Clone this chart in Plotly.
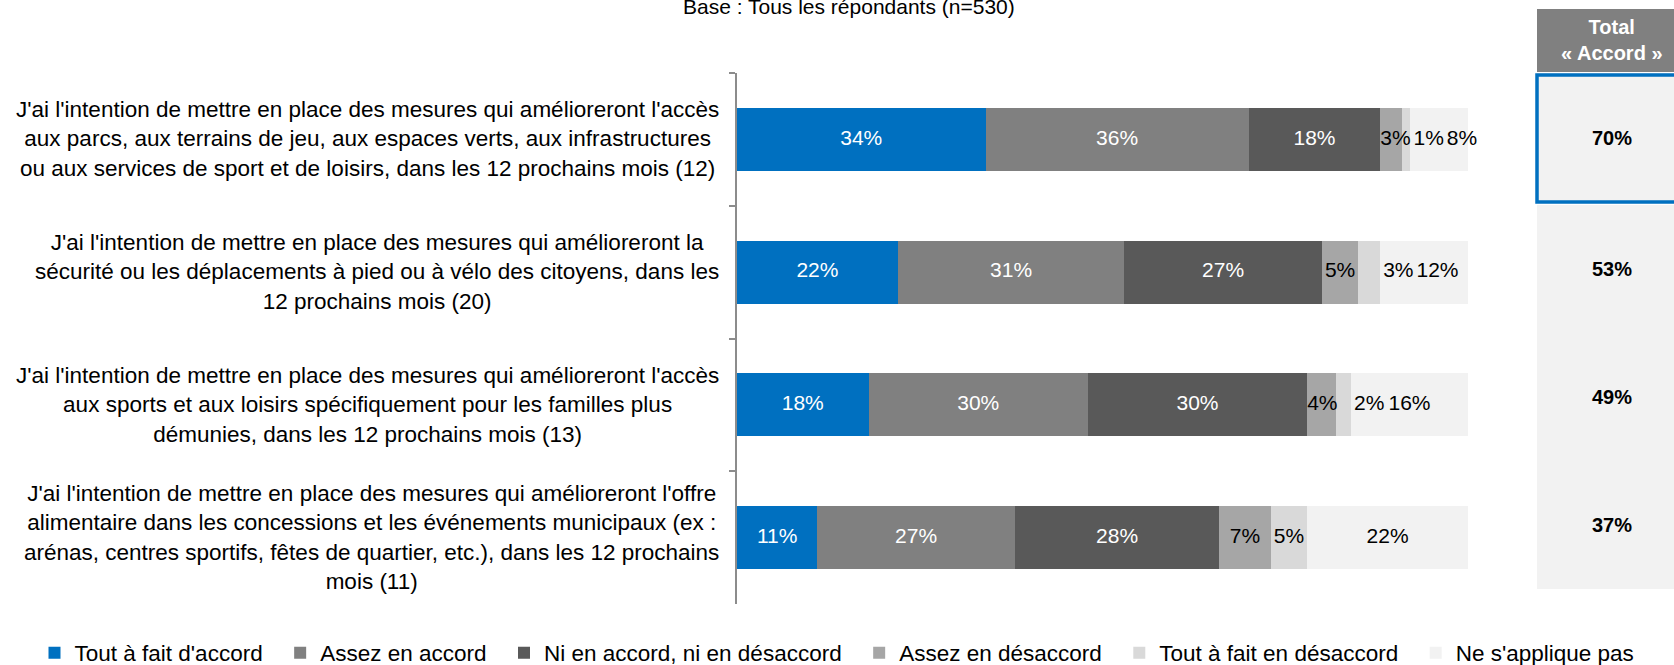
import plotly.graph_objects as go

# data
questions = [
    "J'ai l'intention de mettre en place des mesures qui amélioreront l'accès<br>aux parcs, aux terrains de jeu, aux espaces verts, aux infrastructures<br>ou aux services de sport et de loisirs, dans les 12 prochains mois (12)",
    "J'ai l'intention de mettre en place des mesures qui amélioreront la<br>sécurité ou les déplacements à pied ou à vélo des citoyens, dans les<br>12 prochains mois (20)",
    "J'ai l'intention de mettre en place des mesures qui amélioreront l'accès<br>aux sports et aux loisirs spécifiquement pour les familles plus<br>démunies, dans les 12 prochains mois (13)",
    "J'ai l'intention de mettre en place des mesures qui amélioreront l'offre<br>alimentaire dans les concessions et les événements municipaux (ex :<br>arénas, centres sportifs, fêtes de quartier, etc.), dans les 12 prochains<br>mois (11)",
]
tout_accord = [34, 22, 18, 11]
assez_accord = [36, 31, 30, 27]
ni_ni = [18, 27, 30, 28]
assez_desaccord = [3, 5, 4, 7]
tout_desaccord = [1, 3, 2, 5]
ne_s_applique = [8, 12, 16, 22]
total_accord = [70, 53, 49, 37]

series_names = ["Tout à fait d'accord", "Assez en accord", "Ni en accord, ni en désaccord",
                "Assez en désaccord", "Tout à fait en désaccord", "Ne s'applique pas"]
series_values = [tout_accord, assez_accord, ni_ni, assez_desaccord, tout_desaccord, ne_s_applique]
colors = ["#0070C0", "#808080", "#595959", "#A6A6A6", "#D9D9D9", "#F2F2F2"]
text_colors = ["white", "white", "white", "black", "black", "black"]
# where a label goes when it does not fit in its segment
overflow_rule = [None, None, None, "start", "after", None]

W, H = 1674, 665
T, B = 73, 61
PLOT_H = H - T - B
X0_PX, X1_PX = 737, 1468
LABEL_SIZE = 21


def px_x(px):
    return px / W


def px_y(py):
    return (H - B - py) / PLOT_H


def label_width(v):
    # approximate width of "NN%" in axis units
    return LABEL_SIZE * (0.556 * len(str(v)) + 0.889) / ((X1_PX - X0_PX) / 100)


# label centres, worked out row by row so small labels don't collide
label_x = [[0] * len(questions) for _ in series_values]
for r in range(len(questions)):
    cum = 0
    prev_end = -100
    for s, vals in enumerate(series_values):
        v = vals[r]
        w = label_width(v)
        left = cum + v / 2 - w / 2
        if w > v and overflow_rule[s] == "start":
            left = cum
        elif w > v and overflow_rule[s] == "after":
            left = cum + v + 0.4
        left = max(left, prev_end + 0.4)
        label_x[s][r] = left + w / 2
        prev_end = left + w
        cum += v

FONT = "Liberation Sans, Arial, sans-serif"

fig = go.Figure()
for i, (name, vals, col) in enumerate(zip(series_names, series_values, colors)):
    # a little trailing space so legend entries are spread like the original
    legend_name = name + ("\u00a0\u00a0" if i < len(series_names) - 1 else "")
    fig.add_trace(go.Bar(
        y=questions, x=vals, name=legend_name, orientation='h',
        marker=dict(color=col, line=dict(width=0)),
        width=0.475,
        hovertemplate=name + ': %{x}%<extra></extra>',
    ))

for vals, xs, tcol in zip(series_values, label_x, text_colors):
    fig.add_trace(go.Scatter(
        y=questions, x=xs, mode='text', text=[f"{v}%" for v in vals],
        textposition='middle center', textfont=dict(color=tcol, size=LABEL_SIZE, family=FONT),
        showlegend=False, hoverinfo='skip', cliponaxis=False,
    ))

# category labels (centered lines, block right aligned)
for q in questions:
    fig.add_annotation(x=px_x(721), xref='paper', xanchor='right', y=q, yref='y', yanchor='middle',
                       text=q, align='center', showarrow=False,
                       font=dict(size=22.5, color='black', family=FONT))

# title
fig.add_annotation(x=px_x(849), xref='paper', xanchor='center', y=px_y(6), yref='paper', yanchor='middle',
                   text="Base : Tous les répondants (n=530)", showarrow=False,
                   font=dict(size=21, color='black', family=FONT))

# Total « Accord » column
fig.add_shape(type='rect', xref='paper', yref='paper', x0=px_x(1537), x1=px_x(1700),
              y0=px_y(72), y1=px_y(9), fillcolor='#808080', line=dict(width=0), layer='below')
fig.add_annotation(x=px_x(1612), xref='paper', xanchor='center', y=px_y(40), yref='paper', yanchor='middle',
                   text="<b>Total<br>« Accord »</b>", showarrow=False,
                   font=dict(size=20, color='white', family=FONT))

cell_tops = [73, 205, 333, 461]
cell_h = 128
for i, (top, val) in enumerate(zip(cell_tops, total_accord)):
    bottom = top + (130 if i == 0 else cell_h)
    fig.add_shape(type='rect', xref='paper', yref='paper', x0=px_x(1537), x1=px_x(1700),
                  y0=px_y(bottom), y1=px_y(top), fillcolor='#F2F2F2', line=dict(width=0), layer='below')
    fig.add_annotation(x=px_x(1612), xref='paper', xanchor='center', y=px_y((top + bottom) / 2),
                       yref='paper', yanchor='middle', text=f"<b>{val}%</b>", showarrow=False,
                       font=dict(size=20, color='black', family=FONT))

# highlight border on first cell
fig.add_shape(type='rect', xref='paper', yref='paper', x0=px_x(1537), x1=px_x(1700),
              y0=px_y(202), y1=px_y(75), fillcolor='rgba(0,0,0,0)',
              line=dict(color='#0070C0', width=3.5))

fig.update_layout(
    width=W, height=H,
    barmode='stack',
    plot_bgcolor='white', paper_bgcolor='white',
    margin=dict(l=0, r=0, t=T, b=B, autoexpand=False),
    font=dict(family=FONT, size=22, color='black'),
    xaxis=dict(domain=[px_x(X0_PX), px_x(X1_PX)], range=[0, 100], visible=False, fixedrange=True),
    yaxis=dict(range=[3.5, -0.5], showticklabels=False, showgrid=False, showline=True,
               linecolor='#8C8C8C', linewidth=2, ticks='outside', tickson='boundaries',
               ticklen=6, tickcolor='#8C8C8C', tickwidth=2, zeroline=False, fixedrange=True),
    showlegend=True,
    legend=dict(orientation='h', x=0.5, xanchor='center', y=px_y(653), yanchor='middle',
                font=dict(size=22.5, color='black', family=FONT), traceorder='normal'),
)

fig.write_html("out.html", config={'displayModeBar': False},
               post_script="document.body.style.margin='0';")
